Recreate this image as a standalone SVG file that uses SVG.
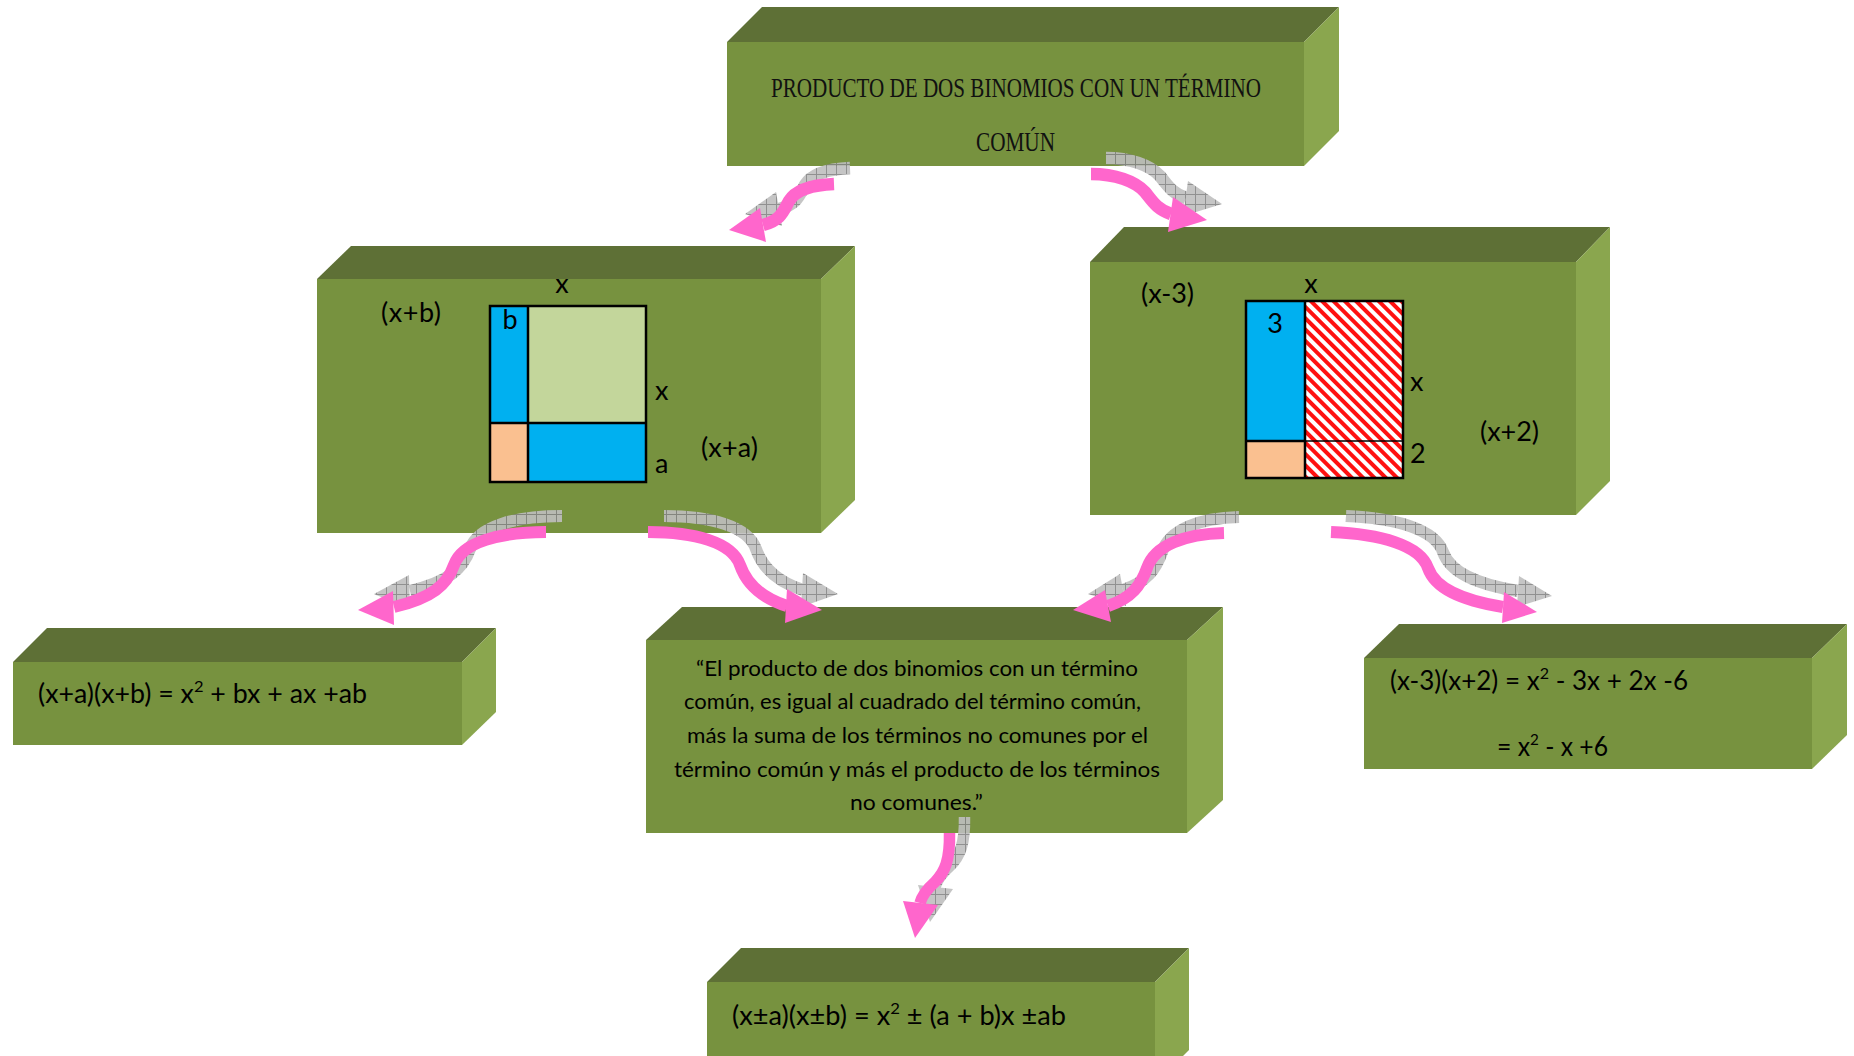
<svg xmlns="http://www.w3.org/2000/svg" xmlns:xlink="http://www.w3.org/1999/xlink" width="1854" height="1056" viewBox="0 0 1854 1056">
  <defs>
    <style>
      .front { fill: #77923F; }
      .top { fill: #5E7036; }
      .side { fill: #8AA64E; }
      .title { font-family: "Liberation Serif", "Times New Roman", serif; font-size: 27px; fill: #111; }
      .lbl { font-family: Lato, "Liberation Sans", Arial, sans-serif; font-size: 27px; fill: #000; }
      .eq { font-family: Lato, "Liberation Sans", Arial, sans-serif; font-size: 26px; fill: #000; }
      .quote { font-family: Lato, "Liberation Sans", Arial, sans-serif; font-size: 21.5px; fill: #000; }
      .mid { text-anchor: middle; }
      .grid { fill: none; stroke: #000; stroke-width: 2.5; }
      .thin { stroke: #000; stroke-width: 1.6; }
      .pink { stroke: #FF66CC; fill: #FF66CC; }
      .shadow { stroke: url(#chk); fill: url(#chk); opacity: 0.9; }
    </style>

    <!-- gray checked fill used for the arrow shadows -->
    <pattern id="chk" width="10" height="10" patternUnits="userSpaceOnUse">
      <rect width="10" height="10" fill="#bfbfbf"/>
      <path d="M0 0.5H10M0.5 0V10" stroke="#858585" stroke-width="1"/>
    </pattern>

    <!-- red diagonal hatching -->
    <pattern id="hatch" width="8" height="8" patternUnits="userSpaceOnUse" patternTransform="rotate(-45)">
      <rect width="8" height="8" fill="#ffffff"/>
      <rect width="4" height="8" fill="#FF1010"/>
    </pattern>

    <!-- curved arrow shapes: shaft + head -->
    <g id="a1">
      <path d="M834,184 C810,185 795,191 789,201 C783,212 781,220 763,225" fill="none" stroke-width="12.5"/>
      <polygon points="729,230 760,208 766,242" stroke="none"/>
    </g>
    <g id="a2">
      <path d="M1091,174 C1115,174 1135,181 1145,192 C1153,202 1157,209 1171,214" fill="none" stroke-width="12.5"/>
      <polygon points="1207,220 1173,197 1168,232" stroke="none"/>
    </g>
    <g id="a3">
      <path d="M546,532 C500,532 462,542 454,565 C447,585 432,598 394,607" fill="none" stroke-width="12"/>
      <polygon points="358,610 393,591 394,625" stroke="none"/>
    </g>
    <g id="a4">
      <path d="M648,532 C694,532 732,542 740,565 C747,585 762,598 787,606" fill="none" stroke-width="12"/>
      <polygon points="822,610 787,589 785,623" stroke="none"/>
    </g>
    <g id="a5">
      <path d="M1224,533 C1185,534 1155,545 1147,568 C1141,585 1132,598 1108,606" fill="none" stroke-width="12"/>
      <polygon points="1073,610 1105,590 1111,622" stroke="none"/>
    </g>
    <g id="a6">
      <path d="M1331,532 C1380,534 1420,545 1428,568 C1435,588 1460,600 1503,607" fill="none" stroke-width="12"/>
      <polygon points="1537,612 1504,592 1502,623" stroke="none"/>
    </g>
    <g id="a7">
      <path d="M949.5,833 C950,860 945,872 935,882 C926,890 922,896 920,903" fill="none" stroke-width="11.5"/>
      <polygon points="915,938 903,901 938,905" stroke="none"/>
    </g>
  </defs>

  <rect width="1854" height="1056" fill="#ffffff"/>

  <!-- title block -->
  <g id="n-title">
    <polygon class="top" points="727,42 762,7 1339,7 1304,42"/>
    <polygon class="side" points="1304,42 1339,7 1339,131 1304,166"/>
    <rect class="front" x="727" y="42" width="577" height="124"/>
    <text class="title" x="771" y="97" textLength="490" lengthAdjust="spacingAndGlyphs">PRODUCTO DE DOS BINOMIOS CON UN TÉRMINO</text>
    <text class="title" x="976" y="151" textLength="79" lengthAdjust="spacingAndGlyphs">COMÚN</text>
  </g>

  <!-- (x+a)(x+b) area model -->
  <g id="n-model-ab">
    <polygon class="top" points="317,279 351,246 855,246 821,279"/>
    <polygon class="side" points="821,279 855,246 855,500 821,533"/>
    <rect class="front" x="317" y="279" width="504" height="254"/>
    <rect x="490" y="306" width="38" height="117" fill="#00B0F0"/>
    <rect x="528" y="306" width="118" height="117" fill="#C3D69B"/>
    <rect x="490" y="423" width="38" height="59" fill="#FAC090"/>
    <rect x="528" y="423" width="118" height="59" fill="#00B0F0"/>
    <rect class="grid" x="490" y="306" width="156" height="176"/>
    <line class="grid" x1="528" y1="306" x2="528" y2="482"/>
    <line class="grid" x1="490" y1="423" x2="646" y2="423"/>
    <text class="lbl" x="381" y="322" textLength="60">(x+b)</text>
    <text class="lbl mid" x="562" y="293">x</text>
    <text class="lbl mid" x="510" y="329">b</text>
    <text class="lbl" x="655" y="400">x</text>
    <text class="lbl" x="655" y="473">a</text>
    <text class="lbl" x="701" y="457" textLength="57">(x+a)</text>
  </g>

  <!-- (x-3)(x+2) area model -->
  <g id="n-model-32">
    <polygon class="top" points="1090,262 1124,227 1610,227 1576,262"/>
    <polygon class="side" points="1576,262 1610,227 1610,481 1576,515"/>
    <rect class="front" x="1090" y="262" width="486" height="253"/>
    <rect x="1246" y="301" width="59" height="140" fill="#00B0F0"/>
    <rect x="1246" y="441" width="59" height="37" fill="#FAC090"/>
    <rect x="1305" y="301" width="98" height="177" fill="url(#hatch)"/>
    <line class="thin" x1="1305" y1="441" x2="1403" y2="441"/>
    <line class="grid" x1="1246" y1="441" x2="1305" y2="441"/>
    <line class="grid" x1="1305" y1="301" x2="1305" y2="478"/>
    <rect class="grid" x="1246" y="301" width="157" height="177"/>
    <text class="lbl" x="1141" y="303" textLength="53">(x-3)</text>
    <text class="lbl mid" x="1311" y="293">x</text>
    <text class="lbl mid" x="1275" y="333">3</text>
    <text class="lbl" x="1410" y="391">x</text>
    <text class="lbl" x="1410" y="463">2</text>
    <text class="lbl" x="1480" y="441" textLength="59">(x+2)</text>
  </g>

  <!-- general expansion -->
  <g id="n-expand-ab">
    <polygon class="top" points="13,662 47,628 496,628 462,662"/>
    <polygon class="side" points="462,662 496,628 496,712 462,745"/>
    <rect class="front" x="13" y="662" width="449" height="83"/>
    <text class="eq" x="38" y="703" textLength="329" lengthAdjust="spacingAndGlyphs">(x+a)(x+b) = x<tspan font-size="16" dy="-11">2</tspan><tspan dy="11"> + bx + ax +ab</tspan></text>
  </g>

  <!-- rule statement -->
  <g id="n-rule">
    <polygon class="top" points="646,640 682,607 1223,607 1187,640"/>
    <polygon class="side" points="1187,640 1223,607 1223,800 1187,833"/>
    <rect class="front" x="646" y="640" width="541" height="193"/>
    <text class="quote" x="696" y="676" textLength="442" lengthAdjust="spacingAndGlyphs">“El producto de dos binomios con un término</text>
    <text class="quote" x="684" y="709" textLength="457" lengthAdjust="spacingAndGlyphs">común, es igual al cuadrado del término común,</text>
    <text class="quote" x="687" y="743" textLength="461" lengthAdjust="spacingAndGlyphs">más la suma de los términos no comunes por el</text>
    <text class="quote" x="674" y="777" textLength="486" lengthAdjust="spacingAndGlyphs">término común y más el producto de los términos</text>
    <text class="quote" x="850" y="810" textLength="133" lengthAdjust="spacingAndGlyphs">no comunes.”</text>
  </g>

  <!-- numeric expansion -->
  <g id="n-expand-32">
    <polygon class="top" points="1364,658 1399,624 1847,624 1812,658"/>
    <polygon class="side" points="1812,658 1847,624 1847,735 1812,769"/>
    <rect class="front" x="1364" y="658" width="448" height="111"/>
    <text class="eq" x="1390" y="690" textLength="298" lengthAdjust="spacingAndGlyphs">(x-3)(x+2) = x<tspan font-size="16" dy="-11">2</tspan><tspan dy="11"> - 3x + 2x -6</tspan></text>
    <text class="eq" x="1497" y="756" textLength="111" lengthAdjust="spacingAndGlyphs">= x<tspan font-size="16" dy="-11">2</tspan><tspan dy="11"> - x +6</tspan></text>
  </g>

  <!-- general formula -->
  <g id="n-formula">
    <polygon class="top" points="707,982 741,948 1189,948 1155,982"/>
    <polygon class="side" points="1155,982 1189,948 1189,1050 1155,1084"/>
    <rect class="front" x="707" y="982" width="448" height="102"/>
    <text class="eq" x="732" y="1025" textLength="334" lengthAdjust="spacingAndGlyphs">(x±a)(x±b) = x<tspan font-size="16" dy="-11">2</tspan><tspan dy="11"> ± (a + b)x ±ab</tspan></text>
  </g>

  <!-- connectors: checked shadow behind each pink curved arrow -->
  <g id="connectors">
    <use xlink:href="#a1" class="shadow" transform="translate(16,-16)"/>
    <use xlink:href="#a2" class="shadow" transform="translate(15,-16)"/>
    <use xlink:href="#a3" class="shadow" transform="translate(16,-16)"/>
    <use xlink:href="#a4" class="shadow" transform="translate(16,-16)"/>
    <use xlink:href="#a5" class="shadow" transform="translate(15,-16)"/>
    <use xlink:href="#a6" class="shadow" transform="translate(15,-16)"/>
    <use xlink:href="#a7" class="shadow" transform="translate(15,-16)"/>
    <use xlink:href="#a1" class="pink"/>
    <use xlink:href="#a2" class="pink"/>
    <use xlink:href="#a3" class="pink"/>
    <use xlink:href="#a4" class="pink"/>
    <use xlink:href="#a5" class="pink"/>
    <use xlink:href="#a6" class="pink"/>
    <use xlink:href="#a7" class="pink"/>
  </g>
</svg>
